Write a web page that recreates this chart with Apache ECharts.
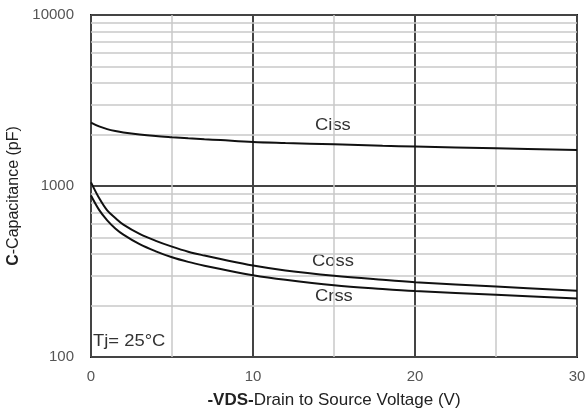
<!DOCTYPE html>
<html>
<head>
<meta charset="utf-8">
<script src="https://cdn.jsdelivr.net/npm/echarts@6/dist/echarts.min.js"></script>
<style>
html,body{margin:0;padding:0;background:#fff;}
#chart{width:587px;height:416px;}
</style>
</head>
<body>
<div id="chart"></div>
<script>
// Data
var vds  = [0, 0.5, 1, 1.5, 2, 3, 4, 5, 6, 7, 8, 10, 12, 15, 18, 20, 25, 30];
var ciss = [2350, 2230, 2150, 2095, 2055, 2000, 1960, 1930, 1903, 1878, 1855, 1810, 1785, 1752, 1718, 1700, 1660, 1625];
var coss = [1050, 850, 720, 650, 595, 525, 478, 442, 413, 392, 374, 343, 321, 299, 283, 274, 258, 244];
var crss = [880, 725, 630, 565, 520, 457, 415, 383, 360, 342, 327, 301, 283, 263, 250, 243, 231, 220];
var xMinorGrid = [5, 15, 25];
var yMinorGrid = [200, 300, 400, 500, 600, 700, 800, 900, 2000, 3000, 4000, 5000, 6000, 7000, 8000, 9000];
var yTickLabels = [100, 1000, 10000];
var xTickLabels = [0, 10, 20, 30];

function pairs(xs, ys){ return xs.map(function(x,i){ return [x, ys[i]]; }); }

var FONT = '"Liberation Sans", Arial, sans-serif';
var chart = echarts.init(document.getElementById('chart'), null, {renderer:'canvas'});

var minorLines = [];
xMinorGrid.forEach(function(v){ minorLines.push({xAxis: v}); });
yMinorGrid.forEach(function(v){ minorLines.push({yAxis: v}); });

var lineStyle = {color:'#111', width:2};
var labelFont = '16px "Liberation Sans", Arial, sans-serif';

chart.setOption({
  animation: false,
  backgroundColor: '#fff',
  grid: {left: 91, right: 10, top: 15, bottom: 59, containLabel: false, outerBoundsMode: 'none',
    show: true, borderColor: '#1a1a1a', borderWidth: 2, backgroundColor: 'transparent'},
  xAxis: {
    type: 'value', min: 0, max: 30, interval: 10,
    axisLine: {show: false}, axisTick: {show: false},
    splitLine: {show: true, lineStyle: {color: '#444', width: 2}},
    axisLabel: {color: '#555', fontFamily: FONT, fontSize: 15, margin: 12,
      formatter: function(v){ return xTickLabels.indexOf(v) >= 0 ? String(v) : ''; }},
    name: '{b|-VDS-}{n|Drain to Source Voltage (V)}',
    nameLocation: 'middle', nameGap: 35,
    nameTextStyle: {rich: {
      b: {fontFamily: FONT, fontSize: 17, fontWeight: 'bold', color: '#222'},
      n: {fontFamily: FONT, fontSize: 17, color: '#222'}
    }}
  },
  yAxis: {
    type: 'log', logBase: 10, min: 100, max: 10000,
    axisLine: {show: false}, axisTick: {show: false},
    splitLine: {show: true, lineStyle: {color: '#444', width: 2}},
    axisLabel: {color: '#555', fontFamily: FONT, fontSize: 15, margin: 17,
      formatter: function(v){ return yTickLabels.indexOf(Math.round(v)) >= 0 ? String(Math.round(v)) : ''; }},
    name: '{b|C}{n|-Capacitance (pF)}',
    nameLocation: 'middle', nameGap: 64, nameRotate: 90,
    nameTextStyle: {padding: [0, 20, 0, 0], rich: {
      b: {fontFamily: FONT, fontSize: 16, fontWeight: 'bold', color: '#222'},
      n: {fontFamily: FONT, fontSize: 16, color: '#222'}
    }}
  },
  series: [
    {type: 'line', name: 'grid', data: [], silent: true, z: 1,
      markLine: {silent: true, symbol: 'none', label: {show: false},
        lineStyle: {color: '#c8c8c8', width: 1.5, type: 'solid'},
        data: minorLines}},
    {type: 'line', name: 'Ciss', data: pairs(vds, ciss), smooth: 0.35, showSymbol: false, lineStyle: lineStyle, z: 5},
    {type: 'line', name: 'Coss', data: pairs(vds, coss), smooth: 0.35, showSymbol: false, lineStyle: lineStyle, z: 5},
    {type: 'line', name: 'Crss', data: pairs(vds, crss), smooth: 0.35, showSymbol: false, lineStyle: lineStyle, z: 5}
  ],
  graphic: [
    {type: 'text', x: 315, y: 118, scaleX: 1.15, style: {text: 'Ciss', font: labelFont, fill: '#333'}},
    {type: 'text', x: 312, y: 254, scaleX: 1.15, style: {text: 'Coss', font: labelFont, fill: '#333'}},
    {type: 'text', x: 315, y: 289, scaleX: 1.15, style: {text: 'Crss', font: labelFont, fill: '#333'}},
    {type: 'text', x: 93, y: 334, scaleX: 1.15, style: {text: 'Tj= 25°C', font: labelFont, fill: '#333'}}
  ]
});
</script>
</body>
</html>
